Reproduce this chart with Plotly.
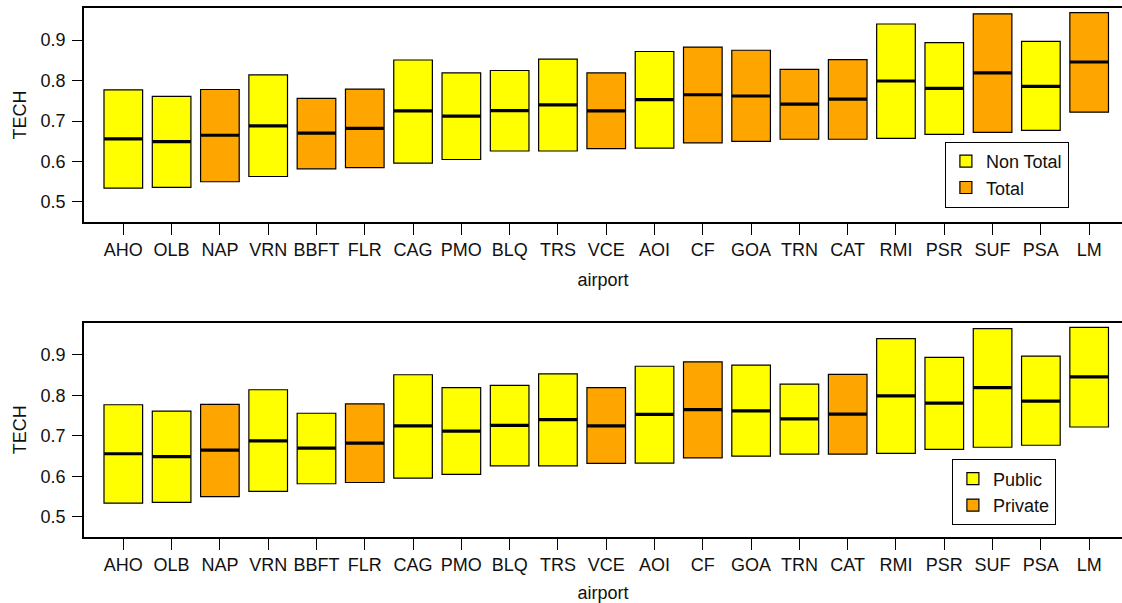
import plotly.graph_objects as go

airports = ["AHO", "OLB", "NAP", "VRN", "BBFT", "FLR", "CAG", "PMO", "BLQ", "TRS", "VCE",
            "AOI", "CF", "GOA", "TRN", "CAT", "RMI", "PSR", "SUF", "PSA", "LM"]
q1 = [0.534, 0.536, 0.550, 0.563, 0.582, 0.585, 0.596, 0.605, 0.626, 0.626, 0.632,
      0.633, 0.646, 0.650, 0.655, 0.655, 0.657, 0.667, 0.672, 0.677, 0.722]
median = [0.656, 0.649, 0.665, 0.688, 0.670, 0.682, 0.725, 0.712, 0.726, 0.740, 0.725,
          0.753, 0.765, 0.762, 0.742, 0.754, 0.799, 0.781, 0.819, 0.786, 0.846]
q3 = [0.777, 0.761, 0.778, 0.814, 0.756, 0.779, 0.851, 0.819, 0.825, 0.853, 0.819,
      0.872, 0.883, 0.875, 0.828, 0.852, 0.940, 0.894, 0.965, 0.897, 0.968]
ownership_top = ["Non Total", "Non Total", "Total", "Non Total", "Total", "Total", "Non Total",
                 "Non Total", "Non Total", "Non Total", "Total", "Non Total", "Total", "Total",
                 "Total", "Total", "Non Total", "Non Total", "Total", "Non Total", "Total"]
ownership_bottom = ["Public", "Public", "Private", "Public", "Public", "Private", "Public",
                    "Public", "Public", "Public", "Private", "Public", "Private", "Public",
                    "Public", "Private", "Public", "Public", "Public", "Public", "Public"]

YELLOW = "#FFFF00"
ORANGE = "#FFA500"
FONT = "Liberation Sans, Arial, sans-serif"
FS = 18

fig = go.Figure()

panels = [
    ("x", "y", ownership_top, [("Non Total", YELLOW), ("Total", ORANGE)], "legend"),
    ("x2", "y2", ownership_bottom, [("Public", YELLOW), ("Private", ORANGE)], "legend2"),
]

for xa, ya, groups, levels, leg in panels:
    for name, color in levels:
        idx = [i for i, g in enumerate(groups) if g == name]
        fig.add_trace(go.Bar(
            x=[airports[i] for i in idx],
            y=[q3[i] - q1[i] for i in idx],
            base=[q1[i] for i in idx],
            width=0.8,
            name=name,
            marker=dict(color=color, line=dict(color="black", width=1.2)),
            xaxis=xa, yaxis=ya, legend=leg,
        ))
    fig.add_trace(go.Scatter(
        x=airports, y=median, mode="markers",
        marker=dict(symbol="line-ew", size=27.4, line=dict(color="black", width=3.2)),
        showlegend=False, xaxis=xa, yaxis=ya, hoverinfo="skip",
    ))

xrange = [-0.814, 20.68]
yrange = [0.4505, 0.9795]

common_x = dict(
    type="category", categoryorder="array", categoryarray=airports, range=xrange,
    showline=True, linecolor="black", linewidth=1.5, mirror=True, automargin=False,
    ticks="outside", ticklen=11, tickwidth=1.2, tickcolor="black",
    showgrid=False, zeroline=False, ticklabelstandoff=0,
    tickfont=dict(family=FONT, size=FS, color="#111"),
    title=dict(text="airport", font=dict(family=FONT, size=FS, color="#111"), standoff=14),
)
common_y = dict(
    range=yrange, tickvals=[0.5, 0.6, 0.7, 0.8, 0.9], ticktext=["0.5", "0.6", "0.7", "0.8", "0.9"],
    showline=True, linecolor="black", linewidth=1.5, mirror=False, automargin=False,
    ticks="outside", ticklen=10, tickwidth=1.2, tickcolor="black",
    showgrid=False, zeroline=False, ticklabelstandoff=3,
    tickfont=dict(family=FONT, size=FS, color="#111"),
    title=dict(text="TECH", font=dict(family=FONT, size=FS, color="#111"), standoff=9),
)

H = 603.0
fig.update_layout(
    width=1122, height=603,
    margin=dict(l=84, r=0, t=0, b=0, autoexpand=False),
    paper_bgcolor="white", plot_bgcolor="white",
    barmode="overlay",
    xaxis=dict(common_x, domain=[0, 1], anchor="y"),
    yaxis=dict(common_y, domain=[1 - 222 / H, 1 - 8 / H], anchor="x"),
    xaxis2=dict(common_x, domain=[0, 1], anchor="y2"),
    yaxis2=dict(common_y, domain=[1 - 537 / H, 1 - 322.7 / H], anchor="x2"),
    legend=dict(x=(944.7 - 84) / 1038, y=1 - 141.7 / H, xanchor="left", yanchor="top",
                bgcolor="white", bordercolor="black", borderwidth=1.2,
                font=dict(family=FONT, size=FS, color="#111"), itemwidth=30),
    legend2=dict(x=(951.7 - 84) / 1038, y=1 - 459.3 / H, xanchor="left", yanchor="top",
                 bgcolor="white", bordercolor="black", borderwidth=1.2,
                 font=dict(family=FONT, size=FS, color="#111"), itemwidth=30),
    showlegend=True,
)

fig.write_html("out.html", config={"displayModeBar": False},
               post_script="document.body.style.margin='0px';")
